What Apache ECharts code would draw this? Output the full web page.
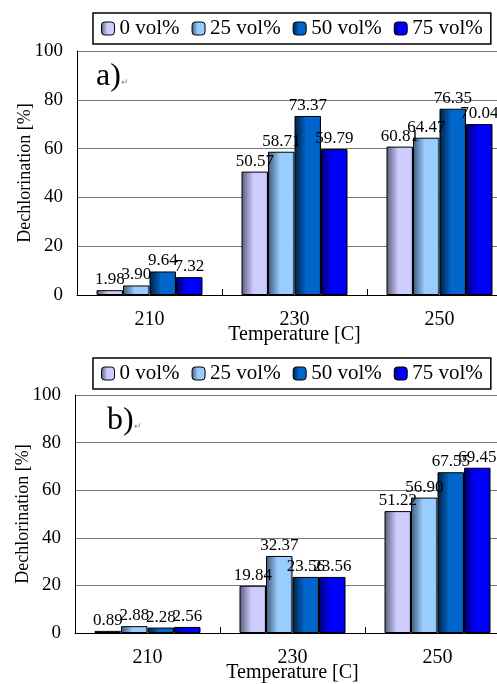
<!DOCTYPE html>
<html>
<head>
<meta charset="utf-8">
<script src="https://cdn.jsdelivr.net/npm/echarts@6/dist/echarts.min.js"></script>
<style>html,body{margin:0;padding:0;background:#fff;overflow:hidden}#c{width:520px;height:684px}</style>
</head>
<body>
<div id="c"></div>
<script>
const categories = ['210', '230', '250'];
const seriesNames = ['0 vol%', '25 vol%', '50 vol%', '75 vol%'];
const panelA_0 = [1.98, 50.57, 60.81];
const panelA_25 = [3.90, 58.71, 64.47];
const panelA_50 = [9.64, 73.37, 76.35];
const panelA_75 = [7.32, 59.79, 70.04];
const panelB_0 = [0.89, 19.84, 51.22];
const panelB_25 = [2.88, 32.37, 56.90];
const panelB_50 = [2.28, 23.56, 67.55];
const panelB_75 = [2.56, 23.56, 69.45];
const yTicks = [0, 20, 40, 60, 80, 100];

const FONT = '"Liberation Serif", "Times New Roman", serif';
function grad(dark, light, edge) {
  return new echarts.graphic.LinearGradient(0, 0, 1, 0, [
    {offset: 0, color: dark},
    {offset: 0.45, color: light},
    {offset: 0.9, color: light},
    {offset: 1, color: edge}
  ]);
}
const colors = [
  grad('#5a5a78', '#ccccff', '#9a9ac0'),
  grad('#3e5a78', '#99ccff', '#6f94bb'),
  grad('#00203f', '#0066cc', '#004a94'),
  grad('#000070', '#0000ff', '#0000c0')
];

const panelA = [panelA_0, panelA_25, panelA_50, panelA_75];
const panelB = [panelB_0, panelB_25, panelB_50, panelB_75];

function mkSeries(arr, idx) {
  return arr.map((d, i) => ({
    name: seriesNames[i],
    type: 'bar',
    xAxisIndex: idx, yAxisIndex: idx,
    data: d,
    barWidth: 26.5,
    barGap: '0%',
    itemStyle: {color: colors[i], borderColor: '#000', borderWidth: 1},
    label: {
      show: true, position: 'top', distance: 2,
      fontFamily: FONT, fontSize: 17, color: '#000',
      formatter: p => p.value.toFixed(2)
    }
  }));
}

function mkX(gridIdx) {
  return {
    type: 'category', gridIndex: gridIdx, data: categories,
    name: 'Temperature [C]', nameLocation: 'middle', nameGap: 30, nameMoveOverlap: false,
    nameTextStyle: {fontFamily: FONT, fontSize: 20, color: '#000'},
    axisLine: {lineStyle: {color: '#000', width: 1}},
    axisTick: {show: true, inside: true, length: 6, lineStyle: {color: '#000'}},
    axisLabel: {fontFamily: FONT, fontSize: 20, color: '#000', margin: 15},
    splitLine: {show: false}
  };
}
function mkY(gridIdx) {
  return {
    type: 'value', gridIndex: gridIdx, min: yTicks[0], max: yTicks[yTicks.length - 1], interval: 20,
    name: 'Dechlorination [%]', nameLocation: 'middle', nameGap: 43, nameMoveOverlap: false,
    nameTextStyle: {fontFamily: FONT, fontSize: 18, color: '#000'},
    axisLine: {show: true, lineStyle: {color: '#000', width: 1}},
    axisTick: {show: false},
    axisLabel: {fontFamily: FONT, fontSize: 19, color: '#000', margin: 14},
    splitLine: {show: true, lineStyle: {color: '#7a7a7a', width: 1}}
  };
}
function mkLegend(top) {
  return {
    data: seriesNames, left: 93, top: top,
    orient: 'horizontal',
    itemWidth: 13, itemHeight: 13, itemGap: 12,
    borderColor: '#000', borderWidth: 1.5, backgroundColor: '#fff',
    padding: [5, 8, 5, 8],
    textStyle: {fontFamily: FONT, fontSize: 21, color: '#000', padding: [2, 0, 0, 0]},
    itemStyle: {borderColor: '#000', borderWidth: 1}
  };
}

const chart = echarts.init(document.getElementById('c'), null, {renderer: 'canvas'});
chart.setOption({
  animation: false,
  backgroundColor: '#fff',
  legend: [mkLegend(13), mkLegend(358)],
  grid: [
    {left: 77, top: 51, width: 435, height: 244},
    {left: 75, top: 395, width: 435, height: 238}
  ],
  xAxis: [mkX(0), mkX(1)],
  yAxis: [mkY(0), mkY(1)],
  graphic: [
    {type: 'text', left: 96, top: 61, style: {
      text: '{m|a)}{r|↵}',
      rich: {m: {fontFamily: FONT, fontSize: 32, fill: '#000'}, r: {fontFamily: FONT, fontSize: 9, fill: '#888', padding: [12, 0, 0, 0]}}
    }},
    {type: 'text', left: 107, top: 405, style: {
      text: '{m|b)}{r|↵}',
      rich: {m: {fontFamily: FONT, fontSize: 32, fill: '#000'}, r: {fontFamily: FONT, fontSize: 9, fill: '#888', padding: [12, 0, 0, 0]}}
    }}
  ],
  series: mkSeries(panelA, 0).concat(mkSeries(panelB, 1))
});
</script>
</body>
</html>
